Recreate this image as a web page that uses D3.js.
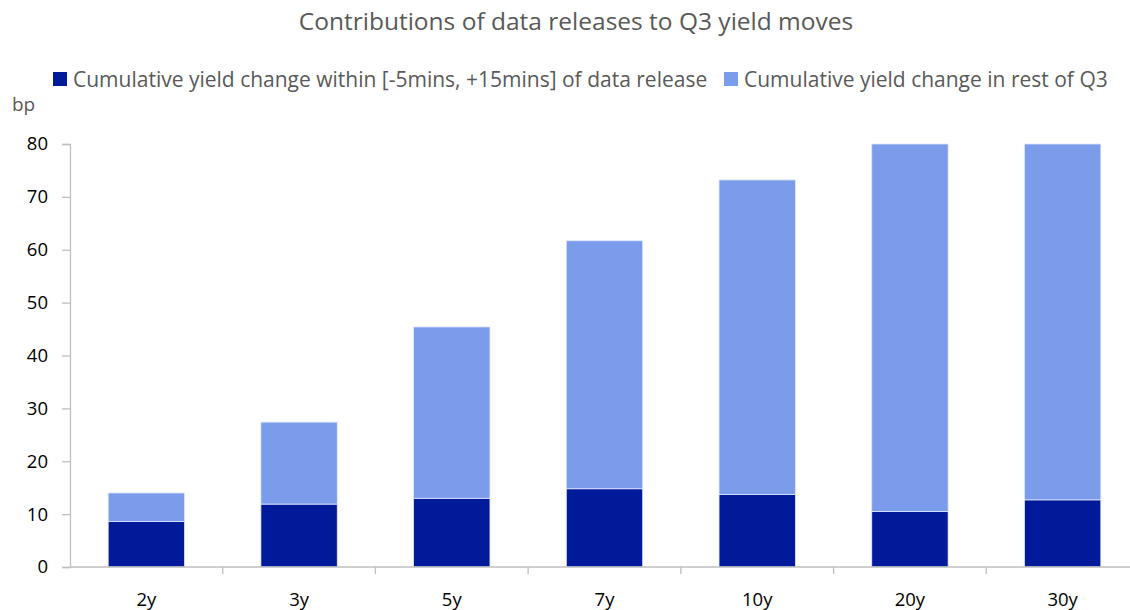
<!DOCTYPE html>
<html>
<head>
<meta charset="utf-8">
<script src="https://cdn.jsdelivr.net/npm/d3@7"></script>
<style>
  body { margin: 0; background: #fff; }
  text { font-family: "Open Sans", "Liberation Sans", sans-serif; }
</style>
</head>
<body>
<div id="chart"></div>
<script>
// chart data
var categories = ["2y", "3y", "5y", "7y", "10y", "20y", "30y"];
var withinRelease = [8.6, 11.9, 13.0, 14.8, 13.7, 10.5, 12.7];
var restOfQ3 = [5.4, 15.5, 32.4, 46.9, 59.5, 69.5, 67.3];
var yTicks = [0, 10, 20, 30, 40, 50, 60, 70, 80];
var seriesNames = ["Cumulative yield change within [-5mins, +15mins] of data release",
                   "Cumulative yield change in rest of Q3"];
var colors = ["#001A9A", "#7A9CEA"];

const width = 1130, height = 610;
const margin = {top: 144, bottom: 43, left: 70, right: -9};

const svg = d3.select("#chart")
              .append("svg")
              .attr("width", width)
              .attr("height", height);

// stack the two series
var rows = categories.map(function(c, i) {
    return {name: c, within: withinRelease[i], rest: restOfQ3[i]};
});
var stacked = d3.stack().keys(["within", "rest"])(rows);

var xScale = d3.scaleBand()
               .domain(categories)
               .range([margin.left, width - margin.right])
               .paddingInner(0.5)
               .paddingOuter(0.25);

var yScale = d3.scaleLinear()
               .domain([0, 80])
               .range([height - margin.bottom, margin.top]);

// bars
svg.selectAll(".series")
   .data(stacked)
   .enter().append("g")
   .attr("class", "series")
   .attr("fill", function(d, i) { return colors[i]; })
   .selectAll("rect")
   .data(function(d) { return d; })
   .enter().append("rect")
   .attr("x", function(d) { return xScale(d.data.name); })
   .attr("y", function(d) { return yScale(d[1]); })
   .attr("width", xScale.bandwidth())
   .attr("height", function(d) { return yScale(d[0]) - yScale(d[1]); })
   .attr("stroke", "#dfe6fb")
   .attr("stroke-width", 0.8);

// y axis
const yAxis = d3.axisLeft(yScale).tickValues(yTicks).tickSize(8).tickSizeOuter(8).tickPadding(14);
var yG = svg.append("g")
   .attr("transform", "translate(" + margin.left + ",0)")
   .call(yAxis);
yG.selectAll("line, path").attr("stroke", "#bfbfbf").attr("stroke-width", 1.3);
yG.selectAll("text").attr("font-size", 18.5).attr("fill", "#000")
  .style("font-family", "'Open Sans', sans-serif");

// x axis, ticks sit between the categories
var x0 = height - margin.bottom;
var step = xScale.step();
var xG = svg.append("g").attr("transform", "translate(0," + x0 + ")");
xG.append("line")
  .attr("x1", margin.left).attr("x2", width)
  .attr("stroke", "#bfbfbf").attr("stroke-width", 1.3);
xG.selectAll(".tick")
  .data(categories)
  .enter().append("line")
  .attr("x1", function(d) { return xScale(d) + xScale.bandwidth() / 2 + step / 2; })
  .attr("x2", function(d) { return xScale(d) + xScale.bandwidth() / 2 + step / 2; })
  .attr("y1", 0).attr("y2", 7)
  .attr("stroke", "#bfbfbf").attr("stroke-width", 1.3);
xG.selectAll(".lbl")
  .data(categories)
  .enter().append("text")
  .attr("x", function(d) { return xScale(d) + xScale.bandwidth() / 2; })
  .attr("y", 39)
  .attr("text-anchor", "middle")
  .attr("font-size", 18.5)
  .attr("fill", "#000")
  .text(function(d) { return d; });

// title
svg.append("text")
   .attr("x", 576).attr("y", 30)
   .attr("text-anchor", "middle")
   .attr("font-size", 24.5)
   .attr("fill", "#595959")
   .text("Contributions of data releases to Q3 yield moves");

// legend
var legX = [53, 724];
var leg = svg.selectAll(".leg")
   .data(seriesNames)
   .enter().append("g")
   .attr("transform", function(d, i) { return "translate(" + legX[i] + ",72)"; });
leg.append("rect")
   .attr("width", 14).attr("height", 14)
   .attr("fill", function(d, i) { return colors[i]; });
leg.append("text")
   .attr("x", 20).attr("y", 15)
   .attr("font-size", 21)
   .attr("fill", "#595959")
   .text(function(d) { return d; });

// unit label
svg.append("text")
   .attr("x", 12).attr("y", 111)
   .attr("font-size", 19)
   .attr("fill", "#595959")
   .text("bp");
</script>
</body>
</html>
